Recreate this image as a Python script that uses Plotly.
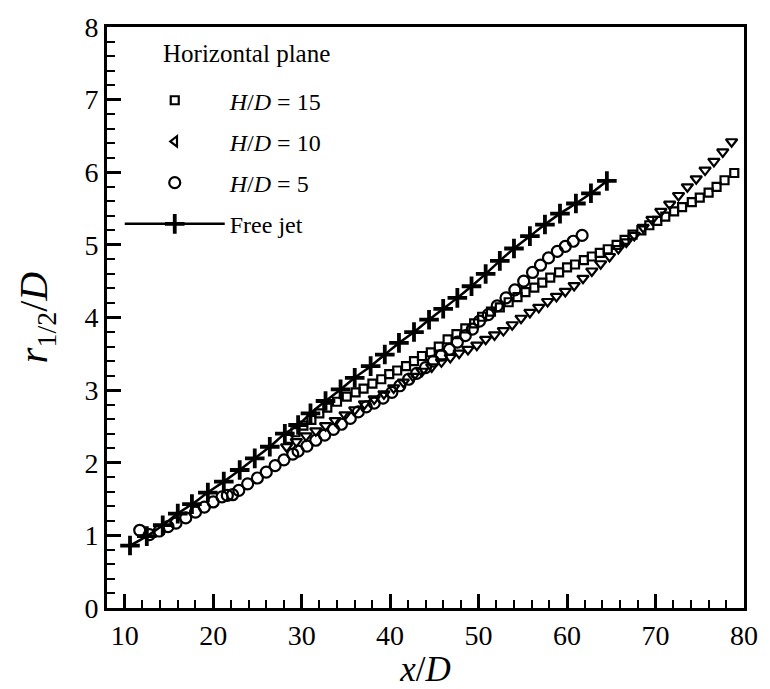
import plotly.graph_objects as go

# ---- data ----
x_free = [10.6, 12.5, 14.3, 16.0, 17.6, 19.4, 21.2, 23.0, 24.7, 26.4, 28.1, 29.6, 31.0, 32.7,
          34.4, 36.0, 37.8, 39.4, 41.0, 42.7, 44.4, 46.0, 47.6, 49.2, 50.8, 52.4, 54.0, 55.8,
          57.5, 59.2, 61.0, 62.7, 64.5]
y_free = [0.86, 0.99, 1.14, 1.30, 1.43, 1.59, 1.74, 1.90, 2.06, 2.22, 2.40, 2.52, 2.68, 2.85,
          3.01, 3.17, 3.33, 3.49, 3.65, 3.80, 3.97, 4.12, 4.27, 4.43, 4.60, 4.78, 4.95, 5.12,
          5.28, 5.43, 5.57, 5.71, 5.88]

x_hd5 = [11.7, 12.8, 13.9, 14.9, 15.8, 16.9, 18.0, 19.0, 20.0, 21.0, 21.6, 22.2, 22.9, 23.9,
         25.0, 26.0, 27.0, 28.0, 29.0, 29.6, 30.6, 31.6, 32.6, 33.6, 34.5, 35.5, 36.4, 37.3,
         38.2, 39.2, 40.2, 41.1, 42.1, 43.0, 44.0, 44.9, 45.8, 46.7, 47.6, 48.5, 49.3, 50.1,
         51.1, 52.1, 53.1, 54.1, 55.1, 56.1, 57.0, 57.9, 58.9, 59.8, 60.7, 61.7]
y_hd5 = [1.07, 1.01, 1.06, 1.12, 1.17, 1.24, 1.32, 1.39, 1.46, 1.53, 1.55, 1.56, 1.62, 1.71,
         1.79, 1.87, 1.96, 2.04, 2.12, 2.16, 2.23, 2.31, 2.38, 2.46, 2.53, 2.61, 2.70, 2.77,
         2.82, 2.89, 2.97, 3.06, 3.15, 3.23, 3.31, 3.40, 3.48, 3.56, 3.66, 3.75, 3.84, 3.95,
         4.04, 4.16, 4.27, 4.38, 4.50, 4.62, 4.72, 4.82, 4.91, 4.98, 5.05, 5.13]

x_hd15 = [28.5, 29.3, 30.2, 31.1, 32.0, 32.9, 34.0, 35.1, 36.1, 37.0, 38.0, 39.0, 39.9, 40.8,
          41.8, 42.7, 43.6, 44.6, 45.5, 46.5, 47.5, 48.5, 49.5, 50.4, 51.4, 52.4, 53.4, 54.4,
          55.3, 56.3, 57.2, 58.1, 59.1, 60.0, 60.9, 61.9, 62.8, 63.7, 64.6, 65.6, 66.5, 67.4,
          68.4, 69.3, 70.2, 71.1, 72.1, 73.0, 74.1, 75.0, 76.0, 76.9, 77.8, 78.9]
y_hd15 = [2.33, 2.42, 2.51, 2.59, 2.68, 2.76, 2.84, 2.91, 2.97, 3.02, 3.09, 3.15, 3.22, 3.27,
          3.33, 3.40, 3.47, 3.52, 3.60, 3.70, 3.77, 3.85, 3.92, 4.01, 4.08, 4.14, 4.21, 4.28,
          4.35, 4.41, 4.48, 4.55, 4.62, 4.69, 4.73, 4.79, 4.84, 4.89, 4.94, 5.00, 5.07, 5.14,
          5.20, 5.27, 5.33, 5.39, 5.46, 5.52, 5.59, 5.65, 5.72, 5.80, 5.89, 5.99]

x_hd10 = [28.3, 29.4, 30.5, 31.6, 32.7, 33.8, 34.9, 36.0, 37.1, 38.2, 39.3, 40.4, 41.5, 42.6,
          43.6, 44.7, 45.8, 46.8, 47.8, 48.8, 49.8, 50.8, 51.8, 52.8, 53.8, 54.8, 55.8, 56.8,
          57.8, 58.8, 59.8, 60.8, 61.8, 62.8, 63.8, 64.8, 65.8, 66.7, 67.6, 68.6, 69.6, 70.6,
          71.6, 72.6, 73.6, 74.6, 75.6, 76.6, 77.6, 78.6]
y_hd10 = [2.22, 2.29, 2.37, 2.44, 2.51, 2.58, 2.66, 2.73, 2.81, 2.88, 2.95, 3.03, 3.11, 3.19,
          3.26, 3.32, 3.39, 3.45, 3.51, 3.56, 3.62, 3.70, 3.76, 3.82, 3.90, 3.99, 4.07, 4.14,
          4.22, 4.29, 4.36, 4.44, 4.54, 4.64, 4.74, 4.84, 4.95, 5.04, 5.13, 5.24, 5.35, 5.46,
          5.56, 5.68, 5.80, 5.91, 6.03, 6.15, 6.28, 6.42]

x_ticks = [10, 20, 30, 40, 50, 60, 70, 80]
y_ticks = [0, 1, 2, 3, 4, 5, 6, 7, 8]

labels = ["<i>H</i>/<i>D</i> = 15", "<i>H</i>/<i>D</i> = 10", "<i>H</i>/<i>D</i> = 5", "Free jet"]

FONT = "Liberation Serif"
BLACK = "black"

fig = go.Figure()

mk_line = dict(color=BLACK, width=2.2)

# H/D = 15 squares
fig.add_trace(go.Scatter(x=x_hd15, y=y_hd15, mode="markers", name=labels[0],
                         legendgroup="g1", legendrank=1,
                         marker=dict(symbol="square-open", size=8, color=BLACK, line=mk_line)))
# H/D = 10 triangles (data)
fig.add_trace(go.Scatter(x=x_hd10, y=y_hd10, mode="markers", name=labels[1], showlegend=False,
                         marker=dict(symbol="triangle-down-open", size=10, color=BLACK, line=mk_line)))
# legend entry for H/D = 10
fig.add_trace(go.Scatter(x=[None], y=[None], mode="markers", name=labels[1],
                         legendgroup="g2", legendrank=2,
                         marker=dict(symbol="triangle-left-open", size=9, color=BLACK, line=mk_line)))
# H/D = 5 circles
fig.add_trace(go.Scatter(x=x_hd5, y=y_hd5, mode="markers", name=labels[2],
                         legendgroup="g3", legendrank=3,
                         marker=dict(symbol="circle-open", size=11, color=BLACK, line=mk_line)))
# Free jet
fig.add_trace(go.Scatter(x=x_free, y=y_free, mode="lines+markers", name=labels[3],
                         legendgroup="g4", legendrank=4,
                         line=dict(color=BLACK, width=2.5, shape="spline"),
                         marker=dict(symbol="cross-thin-open", size=14, color=BLACK,
                                     line=dict(color=BLACK, width=3.8))))

axis_common = dict(
    showline=True, linecolor=BLACK, linewidth=3, mirror=True,
    ticks="inside", ticklen=14, tickwidth=2.5, tickcolor=BLACK,
    showgrid=False, zeroline=False,
    tickfont=dict(family=FONT, size=28, color=BLACK),
)

fig.update_xaxes(
    range=[8, 80], tickmode="array", tickvals=x_ticks, ticktext=[str(v) for v in x_ticks],
    minor=dict(ticks="inside", ticklen=8, tickwidth=1.5, tickcolor=BLACK, dtick=2, tick0=0),
    title=dict(text="<i>x</i>/<i>D</i>", font=dict(family=FONT, size=35, color=BLACK), standoff=2),
    **axis_common)
fig.update_yaxes(
    range=[0, 8], tickmode="array", tickvals=y_ticks, ticktext=[str(v) for v in y_ticks],
    minor=dict(ticks="inside", ticklen=8, tickwidth=1.5, tickcolor=BLACK, dtick=0.2, tick0=0),
    **axis_common)

# y-axis title as a rotated annotation (precise placement)
fig.add_annotation(text="<i>r</i><sub>1/2</sub>/<i>D</i>", xref="paper", yref="paper",
                   x=-0.112, y=0.5, xanchor="center", yanchor="middle", textangle=-90,
                   showarrow=False, font=dict(family=FONT, size=40, color=BLACK))

fig.add_annotation(text="Horizontal plane", xref="paper", yref="paper",
                   x=0.085, y=0.955, xanchor="left", yanchor="middle", showarrow=False,
                   font=dict(family=FONT, size=25, color=BLACK))

fig.update_layout(
    width=770, height=689,
    margin=dict(l=107, r=17, t=23, b=74),
    paper_bgcolor="white", plot_bgcolor="white",
    font=dict(family=FONT, color=BLACK),
    legend=dict(x=0.02, y=0.912, xanchor="left", yanchor="top",
                bgcolor="rgba(0,0,0,0)", borderwidth=0,
                font=dict(family=FONT, size=24, color=BLACK),
                traceorder="grouped", tracegroupgap=7, itemwidth=100),
)

fig.write_html("out.html")
